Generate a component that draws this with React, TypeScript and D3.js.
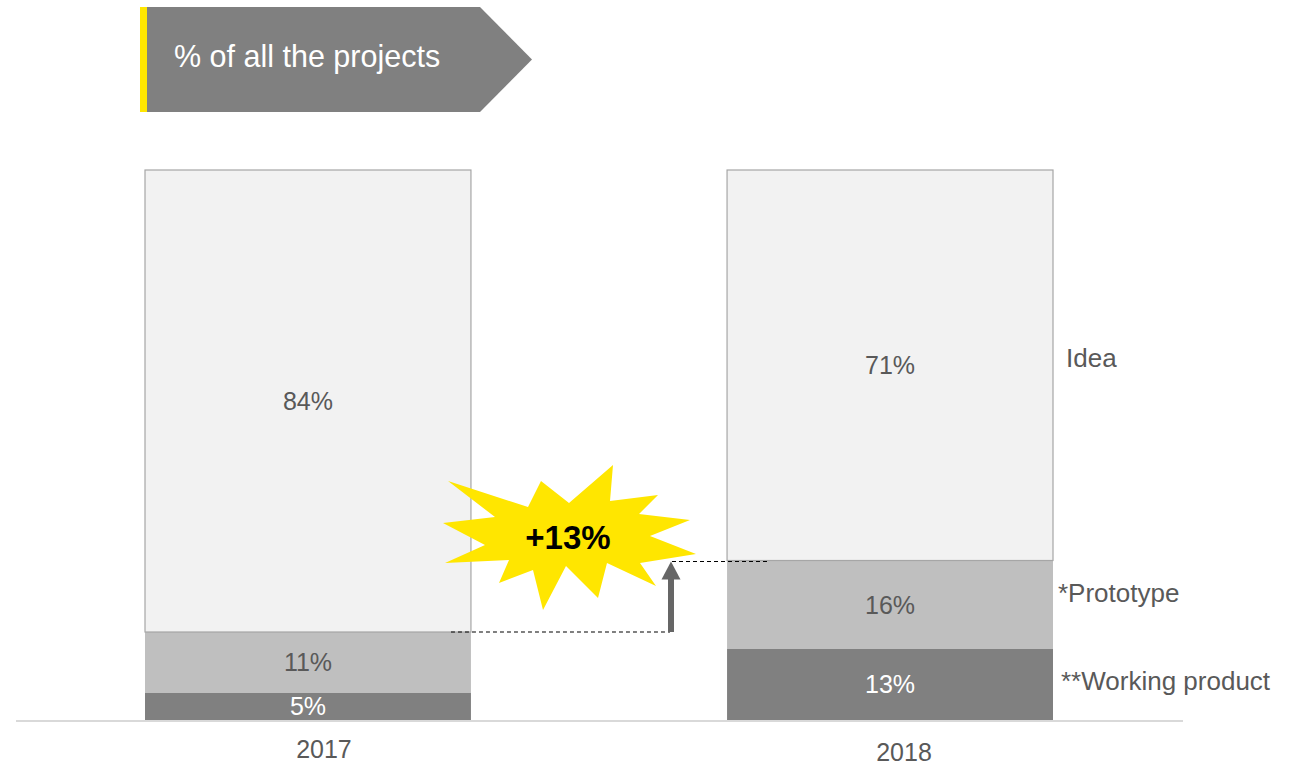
import React from "react";
import * as d3 from "d3";

const categories = ["2017", "2018"];
const seriesNames = ["**Working product", "*Prototype", "Idea"];
const workingProduct = [5, 13];
const prototype = [11, 16];
const idea = [84, 71];
const valueLabels = [
  ["5%", "13%"],
  ["11%", "16%"],
  ["84%", "71%"],
];
const changeLabel = "+13%";
const titleText = "% of all the projects";

const W = 1297;
const H = 766;
const FONT = "'Liberation Sans', Arial, Helvetica, sans-serif";

const fills = ["#808080", "#bfbfbf", "#f2f2f2"];
const labelColors = ["#ffffff", "#595959", "#595959"];

// starburst outline, offsets relative to its centre
const burst: [number, number][] = [
  [-120, -56], [-40, -30], [-27, -56], [1, -34], [45, -72], [42, -36],
  [90, -42], [71, -23], [122, -17], [82, -1], [128, 17], [72, 26],
  [88, 49], [39, 26], [30, 61], [-2, 29], [-25, 73], [-35, 33],
  [-69, 46], [-59, 23], [-123, 26], [-83, 8], [-125, -14], [-73, -20],
];

export default function App() {
  const series = [workingProduct, prototype, idea];
  const table = categories.map((c, i) => {
    const row: any = { cat: c };
    series.forEach((s, k) => (row["s" + k] = s[i]));
    return row;
  });
  const stack = d3.stack<any>().keys(["s0", "s1", "s2"])(table);

  const x = d3.scaleBand<string>().domain(categories).range([145, 1053]).paddingInner(0.44).paddingOuter(0);
  const y = d3.scaleLinear().domain([0, 100]).range([720, 170]);
  const bw = x.bandwidth();

  const x1 = x(categories[0])! + bw;
  const x2 = x(categories[1])!;
  const yLow = y(stack[1][0][1]);
  const yHigh = y(stack[1][1][1]);
  const arrowX = 671;
  const burstCx = 568;
  const burstCy = 537;

  const seriesLabelDy = [-3.6, -11.9, -7.6];
  const seriesLabelDx = [8, 5, 13];
  const catLabelDx = [16, 14];
  const catLabelY = [758, 761];

  return (
    <svg width={W} height={H} style={{ position: "absolute", left: 0, top: 0, background: "#fff" }} fontFamily={FONT}>
      {/* title banner */}
      <polygon points="147,7 480,7 532,59.5 480,112 147,112" fill="#808080" />
      <rect x={140} y={7} width={7} height={105} fill="#ffe600" />
      <text x={174} y={67} fontSize={30.5} fill="#ffffff">{titleText}</text>

      {/* bars */}
      {stack.map((layer, k) =>
        layer.map((d, i) => {
          const bx = x(categories[i])!;
          const y0 = y(d[0]);
          const y1 = y(d[1]);
          return (
            <g key={k + "-" + i}>
              <rect
                x={bx}
                y={y1}
                width={bw}
                height={y0 - y1}
                fill={fills[k]}
                stroke={k === 2 ? "#a6a6a6" : "none"}
                strokeWidth={k === 2 ? 1.2 : 0}
              />
              <text
                x={bx + bw / 2}
                y={(y0 + y1) / 2}
                dy="0.36em"
                textAnchor="middle"
                fontSize={25}
                fill={labelColors[k]}
              >
                {valueLabels[k][i]}
              </text>
            </g>
          );
        })
      )}

      {/* axis line */}
      <line x1={16} x2={1183} y1={721} y2={721} stroke="#d9d9d9" strokeWidth={2} />

      {/* category labels */}
      {categories.map((c, i) => (
        <text key={c} x={x(c)! + bw / 2 + catLabelDx[i]} y={catLabelY[i]} textAnchor="middle" fontSize={25} fill="#595959">
          {c}
        </text>
      ))}

      {/* series labels */}
      {stack.map((layer, k) => {
        const d = layer[1];
        const cy = (y(d[0]) + y(d[1])) / 2;
        return (
          <text key={seriesNames[k]} x={x2 + bw + seriesLabelDx[k]} y={cy + seriesLabelDy[k]} dy="0.36em" fontSize={26} fill="#595959">
            {seriesNames[k]}
          </text>
        );
      })}

      {/* dashed connectors and arrow */}
      <line x1={x1 - 20} x2={arrowX - 1} y1={yLow} y2={yLow} stroke="#000" strokeWidth={1.2} strokeDasharray="4 3" />
      <line x1={arrowX + 1} x2={x2 + 42} y1={yHigh + 1} y2={yHigh + 1} stroke="#000" strokeWidth={1.2} strokeDasharray="4 3" />
      <rect x={arrowX - 3} y={yHigh + 18} width={6} height={yLow - yHigh - 18} fill="#666666" />
      <polygon
        points={`${arrowX},${yHigh + 1} ${arrowX - 9.5},${yHigh + 19} ${arrowX + 9.5},${yHigh + 19}`}
        fill="#666666"
      />

      {/* starburst */}
      <polygon points={burst.map(([dx, dy]) => `${burstCx + dx},${burstCy + dy}`).join(" ")} fill="#ffe600" />
      <text x={burstCx} y={burstCy + 12} textAnchor="middle" fontSize={33} fontWeight="bold" fill="#000">
        {changeLabel}
      </text>
    </svg>
  );
}
